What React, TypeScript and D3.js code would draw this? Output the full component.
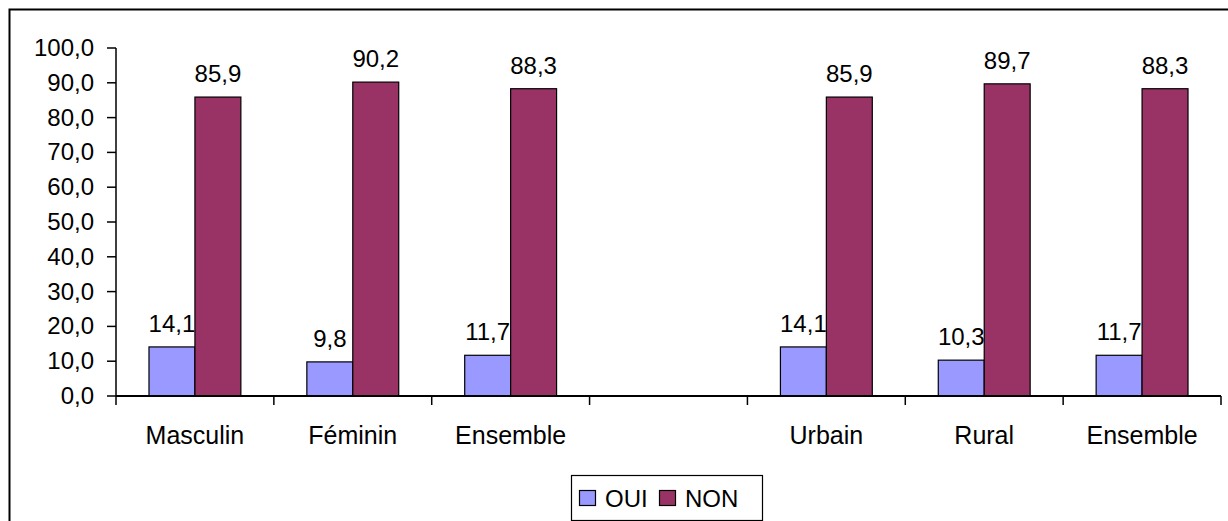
import React from "react";
import * as d3 from "d3";

const categories = ["Masculin", "Féminin", "Ensemble", "", "Urbain", "Rural", "Ensemble"];
const ouiValues: (number | null)[] = [14.1, 9.8, 11.7, null, 14.1, 10.3, 11.7];
const nonValues: (number | null)[] = [85.9, 90.2, 88.3, null, 85.9, 89.7, 88.3];
const seriesNames = ["OUI", "NON"];
const seriesColors = ["#9999FF", "#993366"];
const yTicks = [0, 10, 20, 30, 40, 50, 60, 70, 80, 90, 100];

const W = 1228;
const H = 521;
const FONT = "'Liberation Sans', Arial, sans-serif";
const FS = 24;

export default function App() {
  const x0 = 116;
  const x1 = 1221;
  const yBottom = 396;
  const yTop = 48;

  const xBand = d3
    .scaleBand<number>()
    .domain(categories.map((_, i) => i))
    .range([x0, x1])
    .paddingInner(0)
    .paddingOuter(0);
  const bw = xBand.bandwidth();
  const groupW = bw * 0.582;
  const xSeries = d3.scaleBand<number>().domain([0, 1]).range([0, groupW]);
  const y = d3.scaleLinear().domain([0, 100]).range([yBottom, yTop]);
  const fmt = (v: number) => v.toFixed(1).replace(".", ",");

  const series = [ouiValues, nonValues];
  const tickXs = categories.map((_, i) => xBand(i)!).concat([x1]);

  return (
    <div style={{ position: "fixed", left: 0, top: 0, width: W, height: H, background: "#fff" }}>
      <svg width={W} height={H} style={{ display: "block" }} fontFamily={FONT}>
        <rect x={9.5} y={9.5} width={W + 20} height={H + 20} fill="#fff" stroke="#000" strokeWidth={2} />
        {/* y axis */}
        <line x1={x0} x2={x0} y1={yTop} y2={yBottom} stroke="#000" strokeWidth={1.5} />
        {yTicks.map((t) => (
          <g key={t}>
            <line x1={x0 - 9} x2={x0} y1={y(t)} y2={y(t)} stroke="#000" strokeWidth={1.5} />
            <text x={94} y={y(t) + 8} textAnchor="end" fontSize={FS} fill="#000">
              {fmt(t)}
            </text>
          </g>
        ))}
        {/* bars */}
        {categories.map((c, i) =>
          series.map((vals, s) => {
            const v = vals[i];
            if (v == null) return null;
            const bx = xBand(i)! + (bw - groupW) / 2 + xSeries(s)!;
            const w = xSeries.bandwidth();
            return (
              <g key={`${i}-${s}`}>
                <rect x={bx} y={y(v)} width={w} height={yBottom - y(v)} fill={seriesColors[s]} stroke="#000" strokeWidth={1.2} />
                <text x={bx + w / 2} y={y(v) - 15} textAnchor="middle" fontSize={FS} fill="#000">
                  {fmt(v)}
                </text>
              </g>
            );
          })
        )}
        {/* x axis */}
        <line x1={x0} x2={x1} y1={yBottom} y2={yBottom} stroke="#000" strokeWidth={2} />
        {tickXs.map((tx, i) => (
          <line key={i} x1={tx} x2={tx} y1={yBottom} y2={yBottom + 9} stroke="#000" strokeWidth={1.5} />
        ))}
        {categories.map((c, i) => (
          <text key={i} x={xBand(i)! + bw / 2} y={444} textAnchor="middle" fontSize={25} fill="#000">
            {c}
          </text>
        ))}
        {/* legend */}
        <rect x={571.5} y={475.5} width={191} height={45} fill="#fff" stroke="#000" strokeWidth={1.2} />
        {seriesNames.map((n, s) => {
          const lx = [579.5, 659.5][s];
          return (
            <g key={n}>
              <rect x={lx} y={490.5} width={16} height={15} fill={seriesColors[s]} stroke="#000" strokeWidth={1.2} />
              <text x={lx + 25.5} y={507} fontSize={FS} fill="#000">
                {n}
              </text>
            </g>
          );
        })}
      </svg>
    </div>
  );
}
